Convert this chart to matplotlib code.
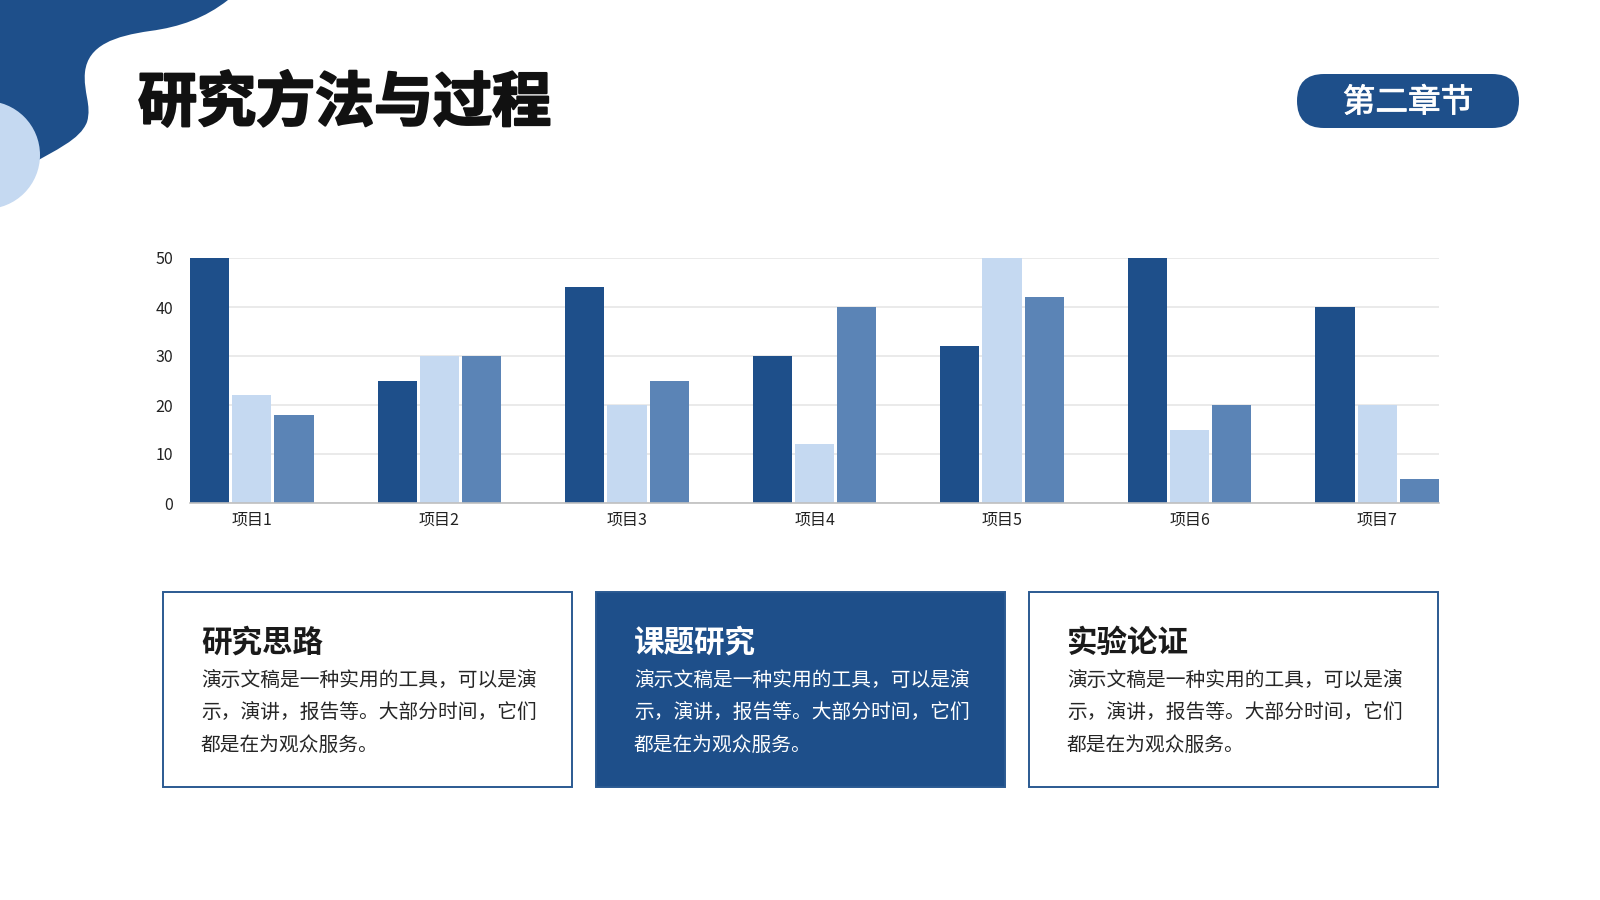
import numpy as np
import matplotlib
matplotlib.use("Agg")
import matplotlib.pyplot as plt
import matplotlib.patheffects as pe
from matplotlib.path import Path
from matplotlib.patches import PathPatch, Circle, Rectangle, FancyBboxPatch

plt.rcParams['font.family'] = ['Noto Sans CJK SC', 'DejaVu Sans']

# data
categories = ["项目1", "项目2", "项目3", "项目4", "项目5", "项目6", "项目7"]
series_a = [50, 25, 44, 30, 32, 50, 40]
series_b = [22, 30, 20, 12, 50, 15, 20]
series_c = [18, 30, 25, 40, 42, 20, 5]
yticks = [0, 10, 20, 30, 40, 50]

title = "研究方法与过程"
badge = "第二章节"
card_titles = ["研究思路", "课题研究", "实验论证"]
card_lines = ["演示文稿是一种实用的工具，可以是演",
              "示，演讲，报告等。大部分时间，它们",
              "都是在为观众服务。"]

DARK = "#1E4F8A"; LIGHT = "#C5D9F1"; MID = "#5B84B6"

W, H = 1600, 900
fig = plt.figure(figsize=(16, 9), dpi=100)
fig.patch.set_facecolor("white")

# background layer in pixel coords
bg = fig.add_axes([0, 0, 1, 1], zorder=0)
bg.set_xlim(0, W); bg.set_ylim(H, 0); bg.axis("off")

# top-left blob
verts = [(0, 0), (228, 0),
         (205, 18), (180, 27), (150, 31),
         (115, 36), (88, 45), (85, 72),
         (83, 92), (92, 105), (87, 122),
         (80, 140), (55, 150), (30, 165),
         (0, 185), (0, 0)]
codes = [Path.MOVETO, Path.LINETO] + [Path.CURVE4] * 12 + [Path.LINETO, Path.CLOSEPOLY]
bg.add_patch(PathPatch(Path(verts, codes), fc=DARK, ec="none"))
bg.add_patch(Circle((-14, 155), 54, fc=LIGHT, ec="none"))

bg.text(138, 104, title, fontsize=42.5, fontweight="heavy", color="#111111", va="center", ha="left",
        path_effects=[pe.withStroke(linewidth=1.6, foreground="#111111")])

# badge
bg.add_patch(FancyBboxPatch((1297, 74), 222, 54, boxstyle="round,pad=0,rounding_size=27",
                            fc=DARK, ec="none", mutation_aspect=1))
bg.text(1408, 103, badge, fontsize=23.5, fontweight="medium", color="white", ha="center", va="center",
        path_effects=[pe.withStroke(linewidth=0.6, foreground="white")])

# cards
card_x = [163, 596, 1029]
card_w, card_top, card_h = 409, 592, 195
for i, (cx, ct) in enumerate(zip(card_x, card_titles)):
    filled = i == 1
    bg.add_patch(Rectangle((cx, card_top), card_w, card_h, fc=DARK if filled else "white",
                           ec="#2B5A92", lw=1.4))
    tc = "white" if filled else "#1a1a1a"
    bc = "white" if filled else "#262626"
    bg.text(cx + 38, 643, ct, fontsize=22, fontweight="bold", color=tc, va="center", ha="left")
    for j, line in enumerate(card_lines):
        bg.text(cx + 38, 681 + j * 32, line, fontsize=14.2, color=bc, va="center", ha="left")

# chart
ax = fig.add_axes([190 / W, 1 - 503 / H, 1249 / W, 245 / H], zorder=1)
ax.set_facecolor("none")
x = np.arange(len(categories))
bw, step = 0.209, 0.225
for k, (vals, col) in enumerate(zip([series_a, series_b, series_c], [DARK, LIGHT, MID])):
    ax.bar(x + (k - 1) * step, vals, width=bw, color=col, zorder=3)
ax.set_xlim(-step - bw / 2, len(categories) - 1 + step + bw / 2)
ax.set_ylim(0, 50)
ax.set_yticks(yticks)
ax.set_xticks(x)
ax.set_xticklabels(categories)
ax.grid(axis="y", color="#E6E6E6", lw=1.2, zorder=0)
for s in ["top", "right", "left"]:
    ax.spines[s].set_visible(False)
ax.spines["bottom"].set_color("#BFBFBF"); ax.spines["bottom"].set_linewidth(1.2)
ax.spines["bottom"].set_zorder(4)
ax.tick_params(axis="both", length=0, labelsize=11.5, colors="#222222")
ax.tick_params(axis="y", pad=12)
ax.tick_params(axis="x", pad=6)

fig.savefig("out.png", dpi=100, facecolor="white")
